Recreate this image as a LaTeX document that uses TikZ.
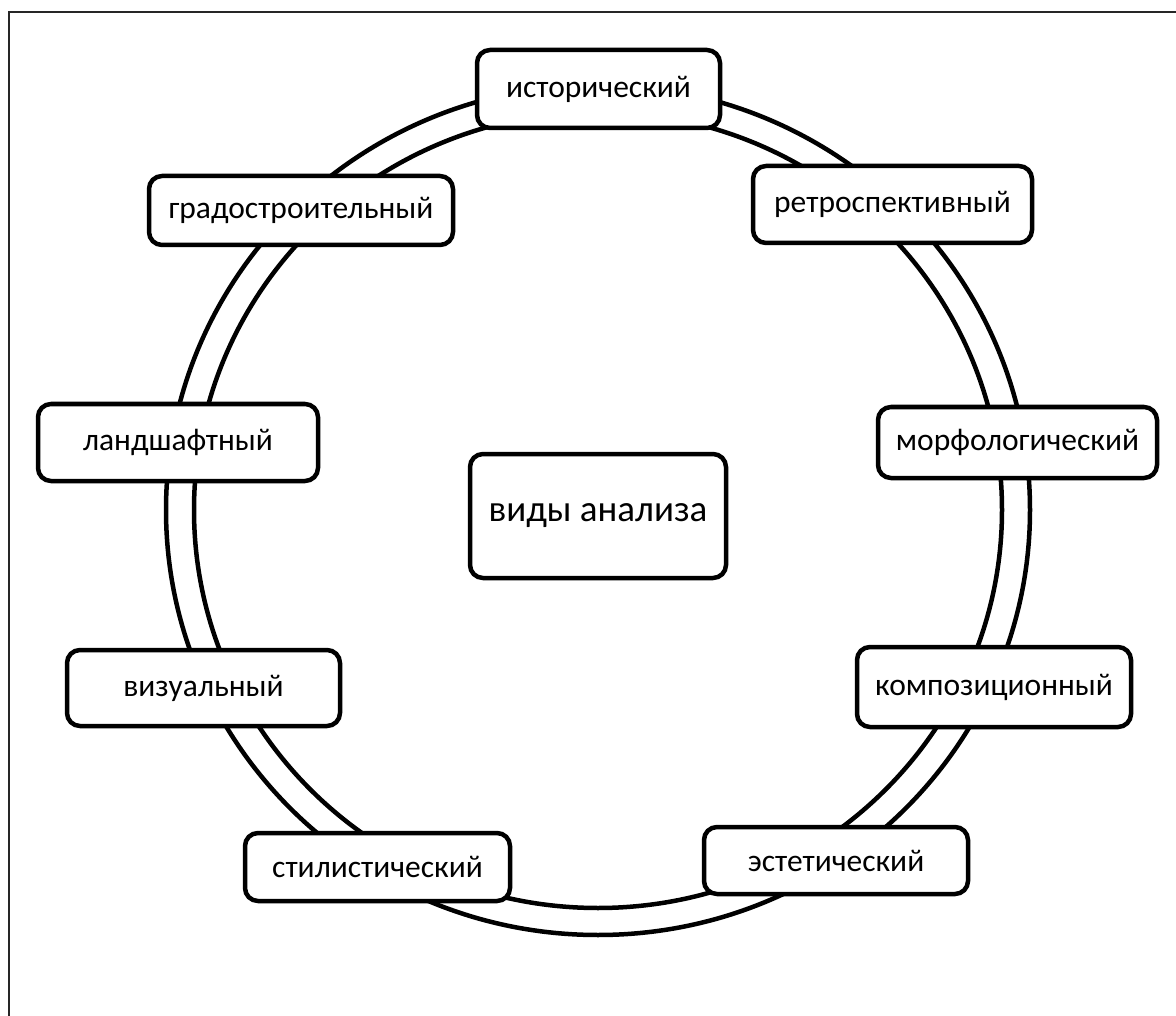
\documentclass[tikz,border=0pt]{standalone}
\usepackage{fontspec}
\setmainfont{Carlito}
\begin{document}
\begin{tikzpicture}[x=1pt,y=-1pt,
  boxnode/.style={draw,line width=4.5pt,rounded corners=13pt,fill=white,inner sep=0pt,
    font=\fontsize{31.5}{38}\selectfont},
  ringline/.style={line width=4.5pt}]
\useasboundingbox (0,0) rectangle (1176,1016);
\draw[line width=1.5pt,black!85] (1176,12) -- (9,12) -- (9,1016);
% ring
\draw[ringline] (598,510) ellipse [x radius=432, y radius=425];
\draw[ringline] (598,510) ellipse [x radius=404, y radius=398];
% nodes
\node[boxnode,minimum width=243pt,minimum height=78pt] (ist) at (598.5,89) {исторический};
\node[boxnode,minimum width=279pt,minimum height=77pt] (retro) at (892.5,204.5) {ретроспективный};
\node[boxnode,minimum width=279pt,minimum height=71pt] (morf) at (1017.5,442.5) {морфологический};
\node[boxnode,minimum width=274pt,minimum height=80pt] (komp) at (994,687) {композиционный};
\node[boxnode,minimum width=264pt,minimum height=67pt] (est) at (836,860.5) {эстетический};
\node[boxnode,minimum width=265pt,minimum height=68pt] (stil) at (377.5,867) {стилистический};
\node[boxnode,minimum width=273pt,minimum height=76pt] (viz) at (203.5,688) {визуальный};
\node[boxnode,minimum width=280pt,minimum height=77pt] (land) at (178,442.5) {ландшафтный};
\node[boxnode,minimum width=304pt,minimum height=69pt] (grad) at (301,210.5) {градостроительный};
\node[boxnode,minimum width=256pt,minimum height=124pt,font=\fontsize{37}{44}\selectfont] (center) at (598,516) {виды анализа};
\end{tikzpicture}
\end{document}
